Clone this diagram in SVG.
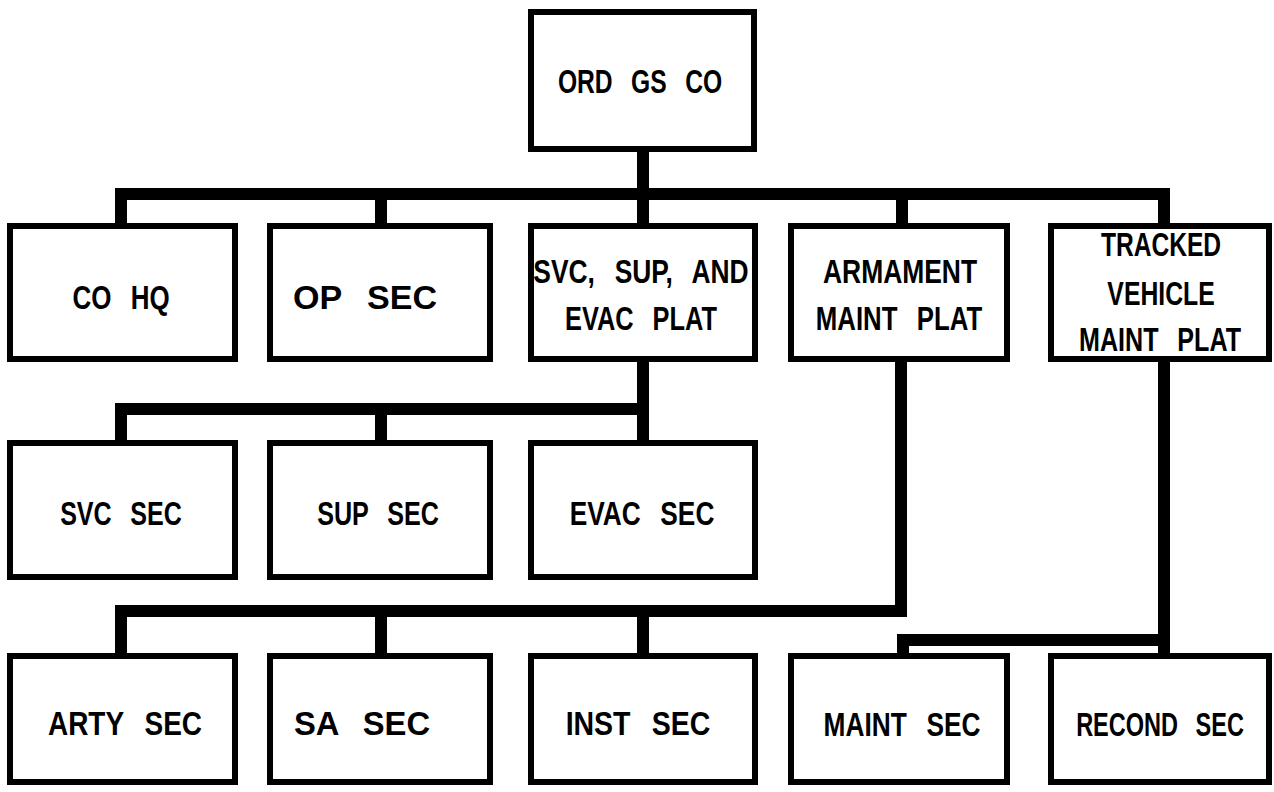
<svg xmlns="http://www.w3.org/2000/svg" width="1274" height="792" viewBox="0 0 1274 792">
<style>
.box{fill:#fff;stroke:#000;stroke-width:6}
.t{font-family:"Liberation Sans",Arial,sans-serif;font-weight:bold;font-size:34px;text-anchor:middle;fill:#000;word-spacing:16px}
.c{fill:none;stroke:#000;stroke-width:12;stroke-linecap:butt;stroke-linejoin:miter}
</style>
<rect width="1274" height="792" fill="#fff"/>
<g id="connectors">
<path class="c" d="M643 150V194M121 226V194H1164V226M381 194V226M902 194V226M643 194V226"/>
<path class="c" d="M643 360V409M121 442V409H643V442M381 409V442"/>
<path class="c" d="M901 360V611H121V655M381 611V655M643 611V655"/>
<path class="c" d="M1164 360V655M903 655V640H1164"/>
</g>
<g id="ord"><rect class="box" x="531" y="12" width="223" height="137"/><text class="t" transform="translate(640,93) scale(0.72,1)" textLength="228" lengthAdjust="spacingAndGlyphs">ORD GS CO</text></g>
<g id="cohq"><rect class="box" x="10" y="226" width="225" height="133"/><text class="t" transform="translate(121,309) scale(0.72,1)" textLength="135" lengthAdjust="spacingAndGlyphs">CO HQ</text></g>
<g id="opsec"><rect class="box" x="270" y="226" width="220" height="133"/><text class="t" transform="translate(365,309) scale(0.72,1)" textLength="200" lengthAdjust="spacingAndGlyphs">OP SEC</text></g>
<g id="svcplat"><rect class="box" x="531" y="226" width="224" height="133"/><text class="t" transform="translate(641,283) scale(0.72,1)" textLength="299" lengthAdjust="spacingAndGlyphs">SVC, SUP, AND</text><text class="t" transform="translate(641,330) scale(0.72,1)" textLength="211" lengthAdjust="spacingAndGlyphs">EVAC PLAT</text></g>
<g id="armplat"><rect class="box" x="791" y="226" width="216" height="133"/><text class="t" transform="translate(900,283) scale(0.72,1)" textLength="214" lengthAdjust="spacingAndGlyphs">ARMAMENT</text><text class="t" transform="translate(899,330) scale(0.72,1)" textLength="231" lengthAdjust="spacingAndGlyphs">MAINT PLAT</text></g>
<g id="tvplat"><rect class="box" x="1051" y="226" width="218" height="133"/><text class="t" transform="translate(1161,256) scale(0.72,1)" textLength="167" lengthAdjust="spacingAndGlyphs">TRACKED</text><text class="t" transform="translate(1161,305) scale(0.72,1)" textLength="149" lengthAdjust="spacingAndGlyphs">VEHICLE</text><text class="t" transform="translate(1160,351) scale(0.72,1)" textLength="225" lengthAdjust="spacingAndGlyphs">MAINT PLAT</text></g>
<g id="svcsec"><rect class="box" x="10" y="443" width="225" height="134"/><text class="t" transform="translate(121,525) scale(0.72,1)" textLength="169" lengthAdjust="spacingAndGlyphs">SVC SEC</text></g>
<g id="supsec"><rect class="box" x="270" y="443" width="220" height="134"/><text class="t" transform="translate(378,525) scale(0.72,1)" textLength="169" lengthAdjust="spacingAndGlyphs">SUP SEC</text></g>
<g id="evacsec"><rect class="box" x="531" y="443" width="224" height="134"/><text class="t" transform="translate(642,525) scale(0.72,1)" textLength="201" lengthAdjust="spacingAndGlyphs">EVAC SEC</text></g>
<g id="artysec"><rect class="box" x="10" y="656" width="225" height="126"/><text class="t" transform="translate(125,735) scale(0.72,1)" textLength="214" lengthAdjust="spacingAndGlyphs">ARTY SEC</text></g>
<g id="sasec"><rect class="box" x="270" y="656" width="220" height="126"/><text class="t" transform="translate(362,735) scale(0.72,1)" textLength="189" lengthAdjust="spacingAndGlyphs">SA SEC</text></g>
<g id="instsec"><rect class="box" x="531" y="656" width="224" height="126"/><text class="t" transform="translate(638,735) scale(0.72,1)" textLength="201" lengthAdjust="spacingAndGlyphs">INST SEC</text></g>
<g id="maintsec"><rect class="box" x="791" y="656" width="216" height="126"/><text class="t" transform="translate(902,736) scale(0.72,1)" textLength="218" lengthAdjust="spacingAndGlyphs">MAINT SEC</text></g>
<g id="recondsec"><rect class="box" x="1051" y="656" width="218" height="126"/><text class="t" transform="translate(1160,736) scale(0.72,1)" textLength="233" lengthAdjust="spacingAndGlyphs">RECOND SEC</text></g>
</svg>
